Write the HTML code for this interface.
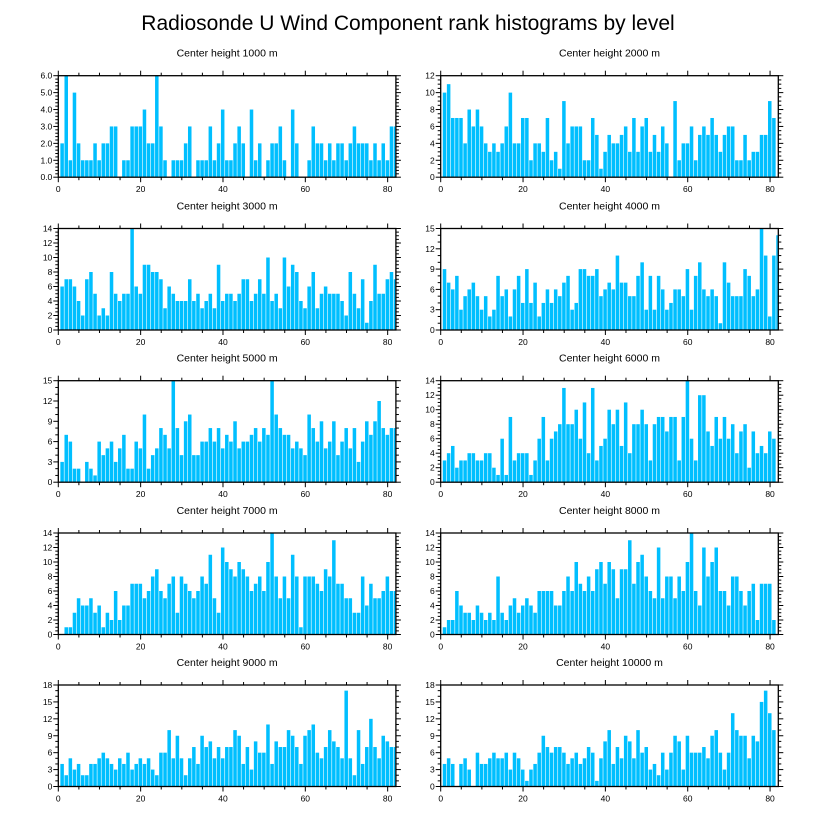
<!DOCTYPE html>
<html><head><meta charset="utf-8"><style>
html,body{margin:0;padding:0;background:#fff;}
svg{display:block;font-family:"Liberation Sans",sans-serif;}
</style></head><body>
<svg id="chart" width="818" height="824" viewBox="0 0 818 824" xmlns="http://www.w3.org/2000/svg">
<text x="408" y="30" font-size="21" text-anchor="middle" fill="#000">Radiosonde U Wind Component rank histograms by level</text>
</svg>
<script>
const levels = [1000,2000,3000,4000,5000,6000,7000,8000,9000,10000];
const yMaxes = [6,12,14,15,15,14,14,14,18,18];
const yStepsArr = [1,2,2,3,3,2,2,2,3,3];
const xTicks = [0,20,40,60,80];
const h1000 = [2,6,1,5,2,1,1,1,2,1,2,2,3,3,0,1,1,3,3,3,4,2,2,6,3,1,0,1,1,1,2,3,0,1,1,1,3,1,2,4,1,1,2,3,2,0,4,1,2,0,1,2,2,3,1,0,4,2,0,0,1,3,2,2,1,2,1,2,2,1,2,3,2,2,2,1,2,1,2,1,3,3];
const h2000 = [10,11,7,7,7,4,8,6,8,6,4,3,4,3,4,6,10,4,4,7,7,2,4,4,3,7,2,3,1,9,4,6,6,6,2,2,7,5,1,3,5,4,4,5,6,3,7,3,6,7,3,5,3,6,4,0,9,2,4,4,6,2,5,6,5,7,5,3,5,6,6,2,2,5,2,3,3,5,5,9,7];
const h3000 = [6,7,7,6,4,2,7,8,5,2,3,2,8,5,4,5,5,14,6,5,9,9,8,8,7,3,6,5,4,4,4,7,4,5,3,4,5,3,9,4,5,5,4,5,7,7,4,5,7,5,10,4,5,3,10,6,9,8,4,3,6,8,3,5,6,5,5,5,4,2,8,5,3,7,1,4,9,5,5,7,8,7];
const h4000 = [9,7,6,8,3,5,6,7,5,3,5,2,3,8,5,6,2,6,8,4,9,4,7,2,4,6,4,6,5,7,8,3,4,9,9,8,8,9,5,6,7,6,11,7,7,5,5,8,10,3,8,3,8,6,3,4,6,6,5,9,3,8,10,6,5,6,5,1,10,7,5,5,5,9,8,5,6,15,11,2,11,14];
const h5000 = [3,7,6,2,2,0,3,2,1,6,4,5,6,3,5,7,2,2,6,5,10,2,4,5,8,7,5,15,8,4,9,10,4,4,6,6,8,6,8,5,7,6,9,5,6,6,7,8,6,8,7,15,10,8,7,7,5,6,5,4,10,8,6,9,5,6,9,4,6,8,5,8,3,6,9,7,9,12,8,7,8,8];
const h6000 = [3,4,5,2,3,3,4,4,3,3,4,4,2,1,6,1,9,3,4,4,4,1,3,6,9,3,6,7,8,13,8,8,10,6,11,4,13,3,5,6,10,8,10,5,11,4,8,8,10,8,3,8,9,9,7,9,9,3,9,14,6,3,12,12,7,5,9,6,9,6,8,4,7,8,2,7,4,5,4,7,6];
const h7000 = [0,1,1,3,5,4,4,5,3,4,1,3,2,6,2,4,4,7,7,7,5,6,8,9,6,5,7,8,3,8,7,6,5,6,8,7,11,5,3,12,10,9,8,10,9,8,6,7,8,6,10,14,8,5,8,5,11,8,1,8,8,8,7,6,9,8,13,7,7,5,5,3,3,8,4,7,5,5,6,8,6,6];
const h8000 = [1,2,2,6,4,3,3,2,4,3,2,3,2,8,3,2,4,5,3,4,5,4,3,6,6,6,6,4,4,6,8,6,10,7,6,8,6,9,10,7,10,9,5,9,9,13,7,10,11,8,6,5,12,5,8,8,5,8,6,10,14,6,4,12,8,10,12,6,6,4,8,8,6,4,6,7,2,7,7,7,2];
const h9000 = [4,2,5,3,4,2,2,4,4,5,6,5,4,3,5,4,6,3,4,5,4,5,3,2,6,6,10,5,9,5,2,5,7,4,9,7,8,5,7,5,7,7,10,9,4,7,3,8,6,6,11,4,8,7,7,10,9,7,4,9,10,11,6,5,7,10,8,7,5,17,5,2,10,4,7,12,7,5,9,8,7,7];
const h10000 = [4,5,4,0,4,5,3,0,6,4,4,5,6,5,5,6,3,6,5,3,1,3,4,6,9,7,6,7,7,6,4,5,6,4,5,7,6,1,5,8,10,4,7,5,9,8,5,10,6,7,3,4,2,6,3,6,9,8,3,9,6,6,6,7,5,9,10,6,3,6,13,10,9,9,5,9,8,15,17,13,10];
const series = [h1000,h2000,h3000,h4000,h5000,h6000,h7000,h8000,h9000,h10000];

const NS = "http://www.w3.org/2000/svg";
const svg = document.getElementById('chart');
const XMAX = 82;
const colX = [58.3, 440.7];
const PW = 337.6, PH = 101.5;
const rowTop = [75.7, 228.5, 380.7, 533, 685];
function mk(tag, attrs, parent){
  const e = document.createElementNS(NS, tag);
  for (const k in attrs) e.setAttribute(k, attrs[k]);
  (parent||svg).appendChild(e);
  return e;
}
function fmt(v, step){ return step===1 ? v.toFixed(1) : String(v); }

series.forEach((vals, p) => {
  const col = p % 2, row = Math.floor(p/2);
  const x0 = colX[col], y0 = rowTop[row];
  const ymax = yMaxes[p], ystep = yStepsArr[p];
  const xs = v => x0 + v / XMAX * PW;
  const ys = v => y0 + PH - v / ymax * PH;
  const g = mk('g', {});
  
  
  const t = mk('text', {x: x0 + PW/2, y: y0 - 19, 'font-size': 10.5, 'text-anchor': 'middle', fill: '#000'}, g);
  t.textContent = 'Center height ' + levels[p] + ' m';
  
  
  // bars
  vals.forEach((v, i) => {
    if (v <= 0) return;
    let a = Math.max(0, i + 0.5), b = Math.min(XMAX, i + 1.5);
    const r = mk('rect', {x: xs(a), y: ys(v), width: Math.max(0, xs(b) - xs(a) - 0.6), height: ys(0) - ys(v), fill: '#00BFFF'}, g);
    
    
  });
  // frame
  const fr = mk('rect', {x: x0, y: y0, width: PW, height: PH, fill: 'none', stroke: '#000', 'stroke-width': 1.3}, g);
  
  
  // x ticks (top & bottom, outward)
  for (let v = 0; v <= 80; v += 5) {
    const len = v % 20 === 0 ? 5 : 3;
    mk('line', {x1: xs(v), x2: xs(v), y1: y0 + PH, y2: y0 + PH + len, stroke: '#000', 'stroke-width': 1}, g);
    mk('line', {x1: xs(v), x2: xs(v), y1: y0, y2: y0 - len, stroke: '#000', 'stroke-width': 1}, g);
  }
  xTicks.forEach(v => {
    const l = mk('text', {x: xs(v), y: y0 + PH + 15, 'font-size': 8.5, 'text-anchor': 'middle', fill: '#000'}, g);
    l.textContent = v;
    
    
  });
  // y ticks
  const nsub = ystep === 1 ? 5 : (ystep === 2 ? 4 : 3);
  for (let k = 0; k <= ymax / ystep * nsub; k++) {
    const v = k * ystep / nsub;
    const major = k % nsub === 0;
    const len = major ? 5 : 3;
    mk('line', {x1: x0, x2: x0 - len, y1: ys(v), y2: ys(v), stroke: '#000', 'stroke-width': 1}, g);
    mk('line', {x1: x0 + PW, x2: x0 + PW + len, y1: ys(v), y2: ys(v), stroke: '#000', 'stroke-width': 1}, g);
  }
  for (let v = 0; v <= ymax; v += ystep) {
    const l = mk('text', {x: x0 - 6, y: ys(v) + 3, 'font-size': 8.5, 'text-anchor': 'end', fill: '#000'}, g);
    l.textContent = fmt(v, ystep);
    
    
  }
});
</script>
</body></html>
